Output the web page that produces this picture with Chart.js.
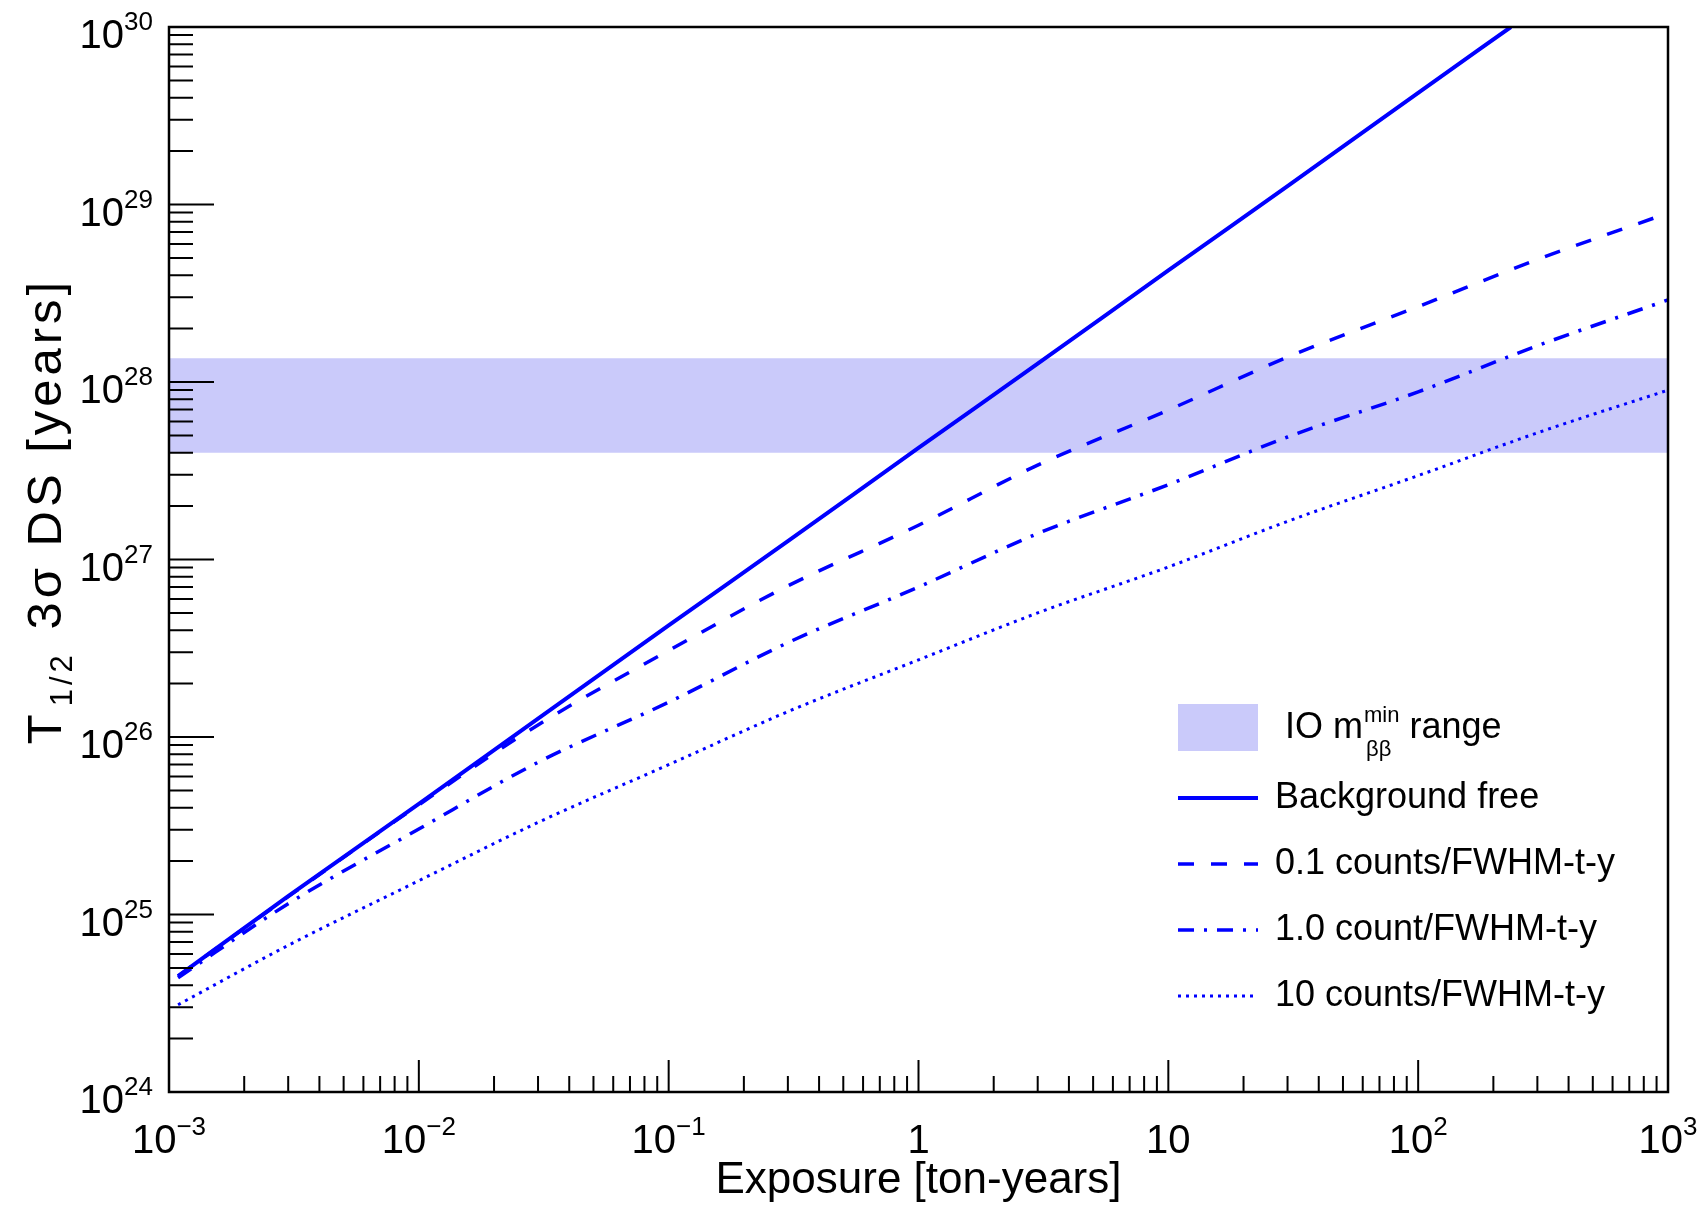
<!DOCTYPE html>
<html lang="en">
<head>
<meta charset="UTF-8">
<title>Half-life 3 sigma discovery sensitivity vs exposure</title>
<script src="https://cdn.jsdelivr.net/npm/chart.js"></script>
<style>
    body { margin: 0; background: #fff; }
    #wrap { width: 1704px; height: 1207px; }
</style>
</head>
<body>
<div id="wrap"><canvas id="chart" width="1704" height="1207"></canvas></div>
<script>
// exposure [ton-years]
const exposure = [0.001087, 0.003, 0.01, 0.03, 0.1, 0.3, 1, 3, 10, 30, 100, 300, 1000];
const bgFreeExposure = [0.001087, 0.003, 0.01, 0.03, 0.1, 0.3, 1, 3, 10, 30, 100, 235];

// T1/2 3 sigma DS [years]
const bgFree = [4.5e24, 1.27e25, 4.2e25, 1.27e26, 4.25e26, 1.27e27, 4.25e27, 1.27e28, 4.25e28, 1.27e29, 4.25e29, 1.0e30];
const bg01   = [4.5e24, 1.26e25, 4.15e25, 1.17e26, 3.07e26, 7.1e26, 1.56e27, 3.4e27, 6.95e27, 1.38e28, 2.66e28, 4.9e28, 8.95e28];
const bg1    = [4.4e24, 1.15e25, 3.03e25, 7.2e25, 1.57e26, 3.4e26, 7.0e26, 1.4e27, 2.64e27, 4.9e27, 8.8e27, 1.6e28, 2.9e28];
const bg10   = [3.1e24, 6.7e24, 1.55e25, 3.3e25, 6.98e25, 1.39e26, 2.72e26, 5.0e26, 9.08e26, 1.64e27, 2.97e27, 5.17e27, 9.0e27];

// IO m_bb^min band
const bandExposure = [0.001, 1000];
const bandLow  = [4.0e27, 4.0e27];
const bandHigh = [1.36e28, 1.36e28];

const xTickValues = [1e-3, 1e-2, 1e-1, 1, 10, 100, 1000];
const xTickLabels = ['10^-3', '10^-2', '10^-1', '1', '10', '10^2', '10^3'];
const yTickValues = [1e24, 1e25, 1e26, 1e27, 1e28, 1e29, 1e30];
const yTickLabels = ['10^24', '10^25', '10^26', '10^27', '10^28', '10^29', '10^30'];

const seriesLabels = ['Background free', '0.1 counts/FWHM-t-y', '1.0 count/FWHM-t-y', '10 counts/FWHM-t-y'];

const FONT = '"Liberation Sans", Arial, Helvetica, sans-serif';
const BLUE = '#0000ff';
const BAND = 'rgb(202,202,250)';

function pts(xs, ys) {
    return xs.map((x, i) => ({ x: x, y: ys[i] }));
}

// draws "10^-3" style text; align 'center' or 'right'
function drawPow(ctx, txt, x, base, align, big, small) {
    const parts = txt.split('^');
    const b = parts[0];
    const s = parts[1] ? parts[1].replace('-', '\u2212') : '';
    ctx.font = big + 'px ' + FONT;
    const wb = ctx.measureText(b).width;
    ctx.font = small + 'px ' + FONT;
    const ws = s ? ctx.measureText(s).width : 0;
    const w = wb + ws;
    let x0 = align === 'center' ? x - w / 2 : x - w;
    ctx.textAlign = 'left';
    ctx.textBaseline = 'alphabetic';
    ctx.font = big + 'px ' + FONT;
    ctx.fillText(b, x0, base);
    if (s) {
        ctx.font = small + 'px ' + FONT;
        ctx.fillText(s, x0 + wb, base - 18);
    }
}

const rootAxes = {
    id: 'rootAxes',
    afterDraw(chart) {
        const ctx = chart.ctx;
        const a = chart.chartArea;
        const xs = chart.scales.x, ys = chart.scales.y;
        ctx.save();
        ctx.fillStyle = '#000';
        ctx.strokeStyle = '#000';

        // ticks (inside, left and bottom only)
        ctx.lineWidth = 2;
        ctx.beginPath();
        for (let d = -3; d < 3; d++) {
            for (let m = 1; m <= 9; m++) {
                const px = xs.getPixelForValue(m * Math.pow(10, d));
                const len = m === 1 ? 32 : 16;
                ctx.moveTo(px, a.bottom);
                ctx.lineTo(px, a.bottom - len);
            }
        }
        for (let d = 24; d < 30; d++) {
            for (let m = 1; m <= 9; m++) {
                const py = ys.getPixelForValue(m * Math.pow(10, d));
                const len = m === 1 ? 45 : 24;
                ctx.moveTo(a.left, py);
                ctx.lineTo(a.left + len, py);
            }
        }
        ctx.stroke();

        // frame
        ctx.lineWidth = 2.5;
        ctx.strokeRect(a.left, a.top, a.right - a.left, a.bottom - a.top);

        // tick labels
        xTickValues.forEach((v, i) => {
            drawPow(ctx, xTickLabels[i], xs.getPixelForValue(v), a.bottom + 61, 'center', 40, 26);
        });
        yTickValues.forEach((v, i) => {
            drawPow(ctx, yTickLabels[i], a.left - 16, ys.getPixelForValue(v) + 21, 'right', 40, 26);
        });

        // x title
        ctx.font = '44px ' + FONT;
        ctx.textAlign = 'center';
        ctx.fillText('Exposure [ton-years]', (a.left + a.right) / 2, 1193);

        // y title
        ctx.save();
        ctx.translate(61, 511);
        ctx.rotate(-Math.PI / 2);
        ctx.textAlign = 'left';
        ctx.letterSpacing = '4px';
        const p1 = 'T', p2 = '1/2', p3 = ' 3\u03c3 DS [years]';
        ctx.font = '49px ' + FONT;
        const w1 = ctx.measureText(p1).width + 4;
        const w3 = ctx.measureText(p3).width;
        ctx.font = '31px ' + FONT;
        const w2 = ctx.measureText(p2).width + 4;
        let x0 = -(w1 + w2 + w3) / 2;
        ctx.font = '49px ' + FONT;
        ctx.fillText(p1, x0, 0);
        ctx.font = '31px ' + FONT;
        ctx.fillText(p2, x0 + w1, 11);
        ctx.font = '49px ' + FONT;
        ctx.fillText(p3, x0 + w1 + w2, 0);
        ctx.restore();

        // legend
        const lx = 1178, lw = 80, tx = 1275, rows = [728, 798, 864, 930, 996];
        ctx.fillStyle = BAND;
        ctx.fillRect(lx, 704, lw, 47);
        ctx.fillStyle = '#000';
        ctx.textAlign = 'left';
        ctx.textBaseline = 'middle';
        ctx.font = '36px ' + FONT;
        let cx = 1285;
        ctx.fillText('IO m', cx, rows[0]);
        cx += ctx.measureText('IO m').width + 1;
        ctx.font = '22px ' + FONT;
        ctx.fillText('min', cx, rows[0] - 12);
        ctx.fillText('\u03b2\u03b2', cx + 2, rows[0] + 22);
        cx += ctx.measureText('min').width;
        ctx.font = '36px ' + FONT;
        ctx.fillText(' range', cx, rows[0]);

        const lineDs = chart.data.datasets.filter(ds => ds.isSeries);
        lineDs.forEach((ds, i) => {
            const y = rows[i + 1];
            ctx.strokeStyle = ds.borderColor;
            ctx.lineWidth = ds.borderWidth;
            ctx.setLineDash(ds.borderDash || []);
            ctx.beginPath();
            ctx.moveTo(lx, y);
            ctx.lineTo(lx + lw, y);
            ctx.stroke();
            ctx.setLineDash([]);
            ctx.font = '36px ' + FONT;
            ctx.fillText(seriesLabels[i], tx, y);
        });
        ctx.restore();
    }
};

const common = { pointRadius: 0, fill: false, cubicInterpolationMode: 'monotone', borderColor: BLUE, isSeries: true, order: 0 };

new Chart(document.getElementById('chart').getContext('2d'), {
    type: 'line',
    data: {
        datasets: [
            { label: 'band low', data: pts(bandExposure, bandLow), borderWidth: 0, pointRadius: 0, fill: false, order: 10 },
            { label: 'IO range', data: pts(bandExposure, bandHigh), borderWidth: 0, pointRadius: 0,
              fill: '-1', backgroundColor: BAND, order: 9 },
            Object.assign({ label: seriesLabels[0], data: pts(bgFreeExposure, bgFree), borderWidth: 4 }, common),
            Object.assign({ label: seriesLabels[1], data: pts(exposure, bg01), borderWidth: 3.5, borderDash: [16, 17] }, common),
            Object.assign({ label: seriesLabels[2], data: pts(exposure, bg1), borderWidth: 3.5, borderDash: [16, 10, 3, 10] }, common),
            Object.assign({ label: seriesLabels[3], data: pts(exposure, bg10), borderWidth: 3, borderDash: [3, 5] }, common)
        ]
    },
    options: {
        responsive: false,
        animation: false,
        devicePixelRatio: 1,
        layout: { padding: { left: 169, top: 27, right: 36, bottom: 115 } },
        scales: {
            x: { type: 'logarithmic', min: 1e-3, max: 1e3, display: false },
            y: { type: 'logarithmic', min: 1e24, max: 1e30, display: false }
        },
        plugins: {
            legend: { display: false },
            tooltip: { enabled: false }
        }
    },
    plugins: [rootAxes]
});
</script>
</body>
</html>
